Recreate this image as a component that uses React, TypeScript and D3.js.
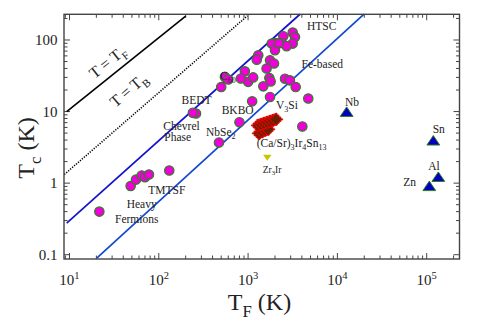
import { useEffect, useRef } from 'react';
import * as d3 from 'd3';

// superconductors, [T_F (K), Tc (K)]
const unconventional: [number, number][] = [
  [3160, 127], [3350, 110], [3160, 89], [2480, 113], [2380, 91], [2700, 82],
  [2000, 91], [1840, 89], [2000, 72], [2200, 90],
  [1300, 61], [1250, 53], [1760, 52], [1950, 47], [1610, 40],
  [920, 36.5], [1000, 26], [1140, 30], [830, 29],
  [550, 30.5], [600, 28], [500, 22],
  [1730, 29.4], [1790, 26.4], [1480, 22.5], [2590, 28.8], [2940, 27.3], [3410, 22],
  [1760, 16], [1110, 13.9], [4720, 15.2], [4050, 6.2],
  [800, 7.1], [261, 9.4], [241, 9.6], [472, 3.7],
  [21.6, 0.4],
  [48.4, 0.91], [55.6, 1.12], [64.3, 1.28], [70, 1.21], [77.6, 1.32], [131, 1.5],
];

const caSrIrSn: [number, number][] = [
  [1325, 4.96], [1432, 5.2], [1547, 5.46], [1671, 5.64],
  [1291, 6.41], [1393, 6.62], [1506, 6.84], [1629, 7.06], [1760, 7.29], [1902, 7.53], [2053, 7.78],
];

const elements: [number, number][] = [
  [12700, 9.8], [118600, 3.9], [135000, 1.21], [107000, 0.9],
];

const zr3ir: [number, number][] = [[1640, 2.27]];

const lineTF: [number, number][] = [[9.3, 10], [200, 216]];
const lineTB: [number, number][] = [[8.74, 1.32], [984, 218]];
const bandUpper: [number, number][] = [[9.3, 0.276], [3810, 229]];
const bandLower: [number, number][] = [[20.2, 0.0893], [19860, 229]];

const xMajor = [1, 2, 3, 4, 5];
const yMajor = [0.1, 1, 10, 100];
const yLabels = ['0.1', '1', '10', '100'];

type Seg = [string, 'n' | 'sub' | 'sup'];

export default function App() {
  const svgRef = useRef<SVGSVGElement>(null);

  useEffect(() => {
    const svg = d3.select(svgRef.current);
    svg.selectAll('*').remove();

    const x = d3.scaleLog().domain([8.68, 2.33e5]).range([64, 459.5]);
    const y = d3.scaleLog().domain([0.0871, 228.6]).range([259, 14.3]);
    const [x0, x1] = x.range();
    const [y0, y1] = y.range();

    const font = '"Liberation Serif", "Times New Roman", serif';
    const ink = '#222';

    const rich = (g: any, px: number, py: number, segs: Seg[], size: number, anchor = 'start', rot = 0) => {
      const t = g.append('text')
        .attr('x', px).attr('y', py)
        .attr('font-size', size)
        .attr('font-family', font)
        .attr('fill', ink)
        .attr('text-anchor', anchor);
      if (rot) t.attr('transform', `rotate(${rot},${px},${py})`);
      let shift = 0;
      segs.forEach(([s, k]) => {
        const target = k === 'sub' ? size * 0.3 : k === 'sup' ? -size * 0.42 : 0;
        t.append('tspan')
          .attr('dy', target - shift)
          .attr('font-size', k === 'n' ? size : size * 0.7)
          .text(s);
        shift = target;
      });
      return t;
    };

    // ticks, mirrored on all four sides
    const axisG = svg.append('g').attr('stroke', '#444').attr('stroke-width', 1);
    const xTicks: { v: number; major: boolean }[] = [];
    for (let e = 0; e <= 5; e++) {
      for (let m = 1; m <= 9; m++) {
        const v = m * Math.pow(10, e);
        if (v >= x.domain()[0] && v <= x.domain()[1]) xTicks.push({ v, major: m === 1 });
      }
    }
    const yTicks: { v: number; major: boolean }[] = [];
    for (let e = -1; e <= 2; e++) {
      for (let m = 1; m <= 9; m++) {
        const v = m * Math.pow(10, e);
        if (v >= 0.1 && v <= y.domain()[1]) yTicks.push({ v, major: m === 1 });
      }
    }
    xTicks.forEach(t => {
      const len = t.major ? 6 : 3.5;
      axisG.append('line').attr('x1', x(t.v)).attr('x2', x(t.v)).attr('y1', y0).attr('y2', y0 - len);
      axisG.append('line').attr('x1', x(t.v)).attr('x2', x(t.v)).attr('y1', y1).attr('y2', y1 + len);
    });
    yTicks.forEach(t => {
      const len = t.major ? 6 : 3.5;
      axisG.append('line').attr('y1', y(t.v)).attr('y2', y(t.v)).attr('x1', x0).attr('x2', x0 + len);
      axisG.append('line').attr('y1', y(t.v)).attr('y2', y(t.v)).attr('x1', x1).attr('x2', x1 - len);
    });

    // tick labels
    xMajor.forEach(e => {
      rich(svg, x(Math.pow(10, e)), 285, [['10', 'n'], [String(e), 'sup']], 15, 'middle');
    });
    yMajor.forEach((v, i) => {
      rich(svg, 57.5, y(v) + 5, [[yLabels[i], 'n']], 15, 'end');
    });

    // guide lines
    const line = d3.line<[number, number]>().x(d => x(d[0])).y(d => y(d[1]));
    svg.append('path').datum(lineTF).attr('d', line).attr('fill', 'none')
      .attr('stroke', '#000').attr('stroke-width', 1.6);
    svg.append('path').datum(lineTB).attr('d', line).attr('fill', 'none')
      .attr('stroke', '#000').attr('stroke-width', 1.6).attr('stroke-dasharray', '1.2,1.4');
    svg.append('path').datum(bandUpper).attr('d', line).attr('fill', 'none')
      .attr('stroke', '#1414c8').attr('stroke-width', 1.7);
    svg.append('path').datum(bandLower).attr('d', line).attr('fill', 'none')
      .attr('stroke', '#1048d0').attr('stroke-width', 1.7);

    // circles
    svg.append('g').selectAll('circle').data(unconventional).enter().append('circle')
      .attr('cx', d => x(d[0])).attr('cy', d => y(d[1])).attr('r', 4.7)
      .attr('fill', '#f000d8').attr('stroke', '#2d7d23').attr('stroke-width', 1.2);

    // diamonds
    svg.append('g').selectAll('rect').data(caSrIrSn).enter().append('rect')
      .attr('x', -4.5).attr('y', -4.5).attr('width', 9).attr('height', 9)
      .attr('transform', d => `translate(${x(d[0])},${y(d[1])}) rotate(45)`)
      .attr('fill', '#6a2000').attr('stroke', '#f00000').attr('stroke-width', 1.4)
      .attr('stroke-dasharray', '2,0.6');

    // elemental metals
    svg.append('g').selectAll('path').data(elements).enter().append('path')
      .attr('d', 'M0,-5.3L6.4,4.2L-6.4,4.2Z')
      .attr('transform', d => `translate(${x(d[0])},${y(d[1])})`)
      .attr('fill', '#0000c0').attr('stroke', '#2d7d23').attr('stroke-width', 1);

    svg.append('g').selectAll('path').data(zr3ir).enter().append('path')
      .attr('d', 'M-4.2,-3L4.2,-3L0,3Z')
      .attr('transform', d => `translate(${x(d[0])},${y(d[1])})`)
      .attr('fill', '#c8c400');

    // frame
    svg.append('rect').attr('x', x0).attr('y', y1).attr('width', x1 - x0).attr('height', y0 - y1)
      .attr('fill', 'none').attr('stroke', '#444').attr('stroke-width', 1.4);

    // annotations
    const fs = 11.5;
    rich(svg, 111, 66, [['T = T', 'n'], ['F', 'sub']], 16, 'middle', -38.7);
    rich(svg, 132, 94, [['T = T', 'n'], ['B', 'sub']], 16, 'middle', -40.5);
    rich(svg, 307, 29.5, [['HTSC', 'n']], fs);
    rich(svg, 301.5, 67.5, [['Fe-based', 'n']], fs);
    rich(svg, 220, 80, [['C', 'n'], ['60', 'sub']], fs);
    rich(svg, 181.5, 103.5, [['BEDT', 'n']], fs);
    rich(svg, 163.3, 129.5, [['Chevrel', 'n']], fs);
    rich(svg, 164.3, 141, [['Phase', 'n']], fs);
    rich(svg, 221.7, 114, [['BKBO', 'n']], fs);
    rich(svg, 206, 136, [['NbSe', 'n'], ['2', 'sub']], fs);
    rich(svg, 276, 108.5, [['V', 'n'], ['3', 'sub'], ['Si', 'n']], fs);
    rich(svg, 256.7, 146.5, [['(Ca/Sr)', 'n'], ['3', 'sub'], ['Ir', 'n'], ['4', 'sub'], ['Sn', 'n'], ['13', 'sub']], fs);
    rich(svg, 262.7, 172.5, [['Zr', 'n'], ['3', 'sub'], ['Ir', 'n']], 9.5);
    rich(svg, 345, 106, [['Nb', 'n']], fs);
    rich(svg, 432.7, 132.5, [['Sn', 'n']], fs);
    rich(svg, 428.3, 169.5, [['Al', 'n']], fs);
    rich(svg, 403.3, 186, [['Zn', 'n']], fs);
    rich(svg, 148.3, 194, [['TMTSF', 'n']], fs);
    rich(svg, 126.7, 208, [['Heavy', 'n']], fs);
    rich(svg, 115, 223, [['Fermions', 'n']], fs);

    // axis titles
    rich(svg, 259.5, 310, [['T', 'n'], ['F', 'sub'], [' (K)', 'n']], 24, 'middle');
    rich(svg, 34, 148, [['T', 'n'], ['c', 'sub'], [' (K)', 'n']], 24, 'middle', -90);
  }, []);

  return (
    <svg ref={svgRef} width={491} height={327}
      style={{ position: 'absolute', left: 0, top: 0, background: '#fff' }} />
  );
}
